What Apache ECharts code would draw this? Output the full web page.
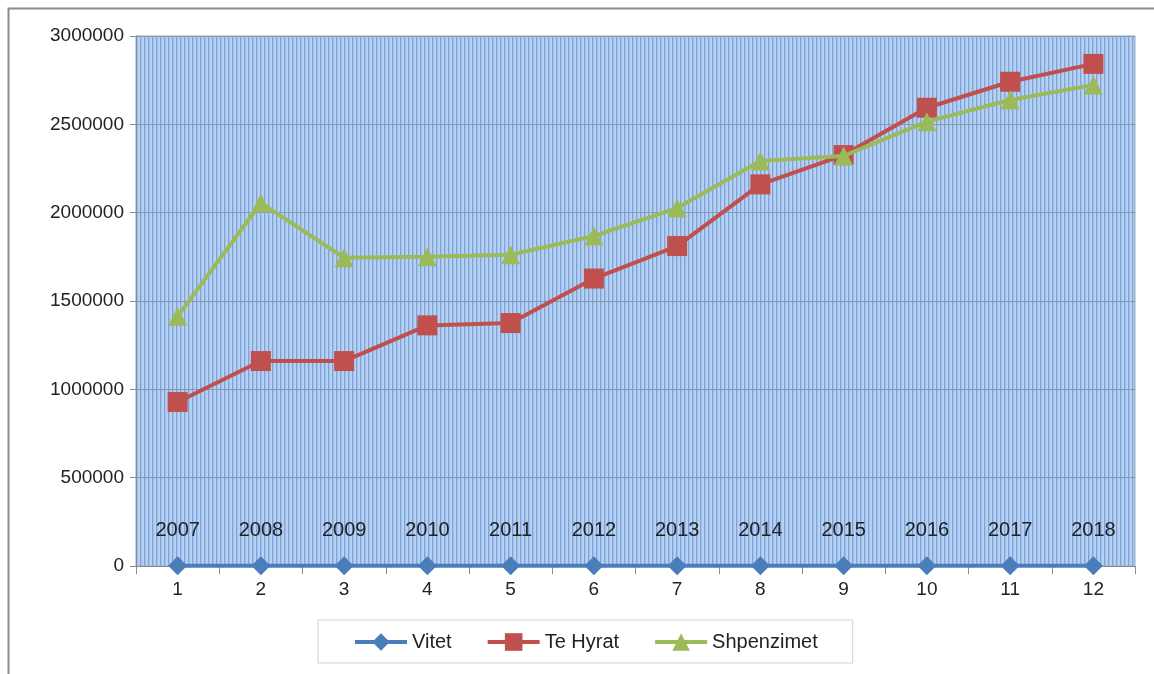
<!DOCTYPE html>
<html>
<head>
<meta charset="utf-8">
<script src="https://cdn.jsdelivr.net/npm/echarts@6/dist/echarts.min.js"></script>
<style>
  html, body { margin: 0; padding: 0; background: #fff; }
  #chart { width: 1154px; height: 674px; }
</style>
</head>
<body>
<div id="chart"></div>
<script>
// data
var categories = ['1', '2', '3', '4', '5', '6', '7', '8', '9', '10', '11', '12'];
var vitet = [2007, 2008, 2009, 2010, 2011, 2012, 2013, 2014, 2015, 2016, 2017, 2018];
var teHyrat = [928000, 1160000, 1160000, 1362000, 1375000, 1627000, 1811000, 2160000, 2326000, 2594000, 2741000, 2842000];
var shpenzimet = [1413000, 2055000, 1745000, 1750000, 1762000, 1868000, 2026000, 2292000, 2321000, 2515000, 2638000, 2723000];

// striped plot background
var stripe = document.createElement('canvas');
stripe.width = 4;
stripe.height = 4;
var ctx = stripe.getContext('2d');
ctx.fillStyle = '#b5d1f4';
ctx.fillRect(0, 0, 4, 4);
ctx.fillStyle = '#80a3d7';
ctx.fillRect(0, 0, 1, 4);
ctx.fillStyle = '#a2c0ea';
ctx.fillRect(1, 0, 1, 4);

var myChart = echarts.init(document.getElementById('chart'));
var font = 'Liberation Sans, Arial, sans-serif';

var option = {
	animation: false,
	textStyle: { fontFamily: font },
	graphic: [{
		type: 'rect',
		shape: { x: 8.5, y: 8.5, width: 1200, height: 700 },
		style: { fill: 'none', stroke: '#8c8c8c', lineWidth: 2 },
		z: -10
	}],
	grid: {
		left: 136,
		right: 19,
		top: 36,
		bottom: 108,
		show: true,
		backgroundColor: { image: stripe, repeat: 'repeat' },
		borderColor: '#98a6ba',
		borderWidth: 1
	},
	legend: {
		left: 318,
		top: 620,
		padding: [12, 35, 11, 35],
		itemGap: 34,
		itemWidth: 52,
		itemHeight: 22,
		borderColor: '#c6d3e6',
		borderWidth: 1,
		lineStyle: { width: 4 },
		textStyle: { fontSize: 20, color: '#222', fontFamily: font },
		data: ['Vitet', 'Te Hyrat', 'Shpenzimet']
	},
	xAxis: {
		type: 'category',
		data: categories,
		boundaryGap: true,
		axisLine: { lineStyle: { color: '#8a8a8a' } },
		axisTick: { show: true, length: 8, lineStyle: { color: '#8a8a8a' } },
		axisLabel: { fontSize: 19, color: '#222', margin: 14 },
		splitLine: { show: false }
	},
	yAxis: {
		type: 'value',
		min: 0,
		max: 3000000,
		interval: 500000,
		axisLine: { show: true, lineStyle: { color: '#8a8a8a' } },
		axisTick: { show: true, length: 6, lineStyle: { color: '#8a8a8a' } },
		axisLabel: {
			fontSize: 19,
			color: '#222',
			margin: 12,
			formatter: function(v){ return String(v); }
		},
		splitLine: { lineStyle: { color: '#8898ae', width: 1 } }
	},
	series: [
		{
			name: 'Vitet',
			type: 'line',
			data: vitet,
			symbol: 'diamond',
			symbolSize: 19,
			lineStyle: { width: 4, color: '#4a7ebb' },
			itemStyle: { color: '#4a7ebb' },
			label: {
				show: true,
				position: 'top',
				distance: 16,
				fontSize: 20,
				color: '#222'
			},
			z: 3
		},
		{
			name: 'Te Hyrat',
			type: 'line',
			data: teHyrat,
			symbol: 'rect',
			symbolSize: 20,
			lineStyle: { width: 4, color: '#c0504d' },
			itemStyle: { color: '#c0504d' },
			z: 4
		},
		{
			name: 'Shpenzimet',
			type: 'line',
			data: shpenzimet,
			symbol: 'triangle',
			symbolSize: 19,
			lineStyle: { width: 4, color: '#9bbb59' },
			itemStyle: { color: '#9bbb59' },
			z: 5
		}
	]
};
myChart.setOption(option);
</script>
</body>
</html>
